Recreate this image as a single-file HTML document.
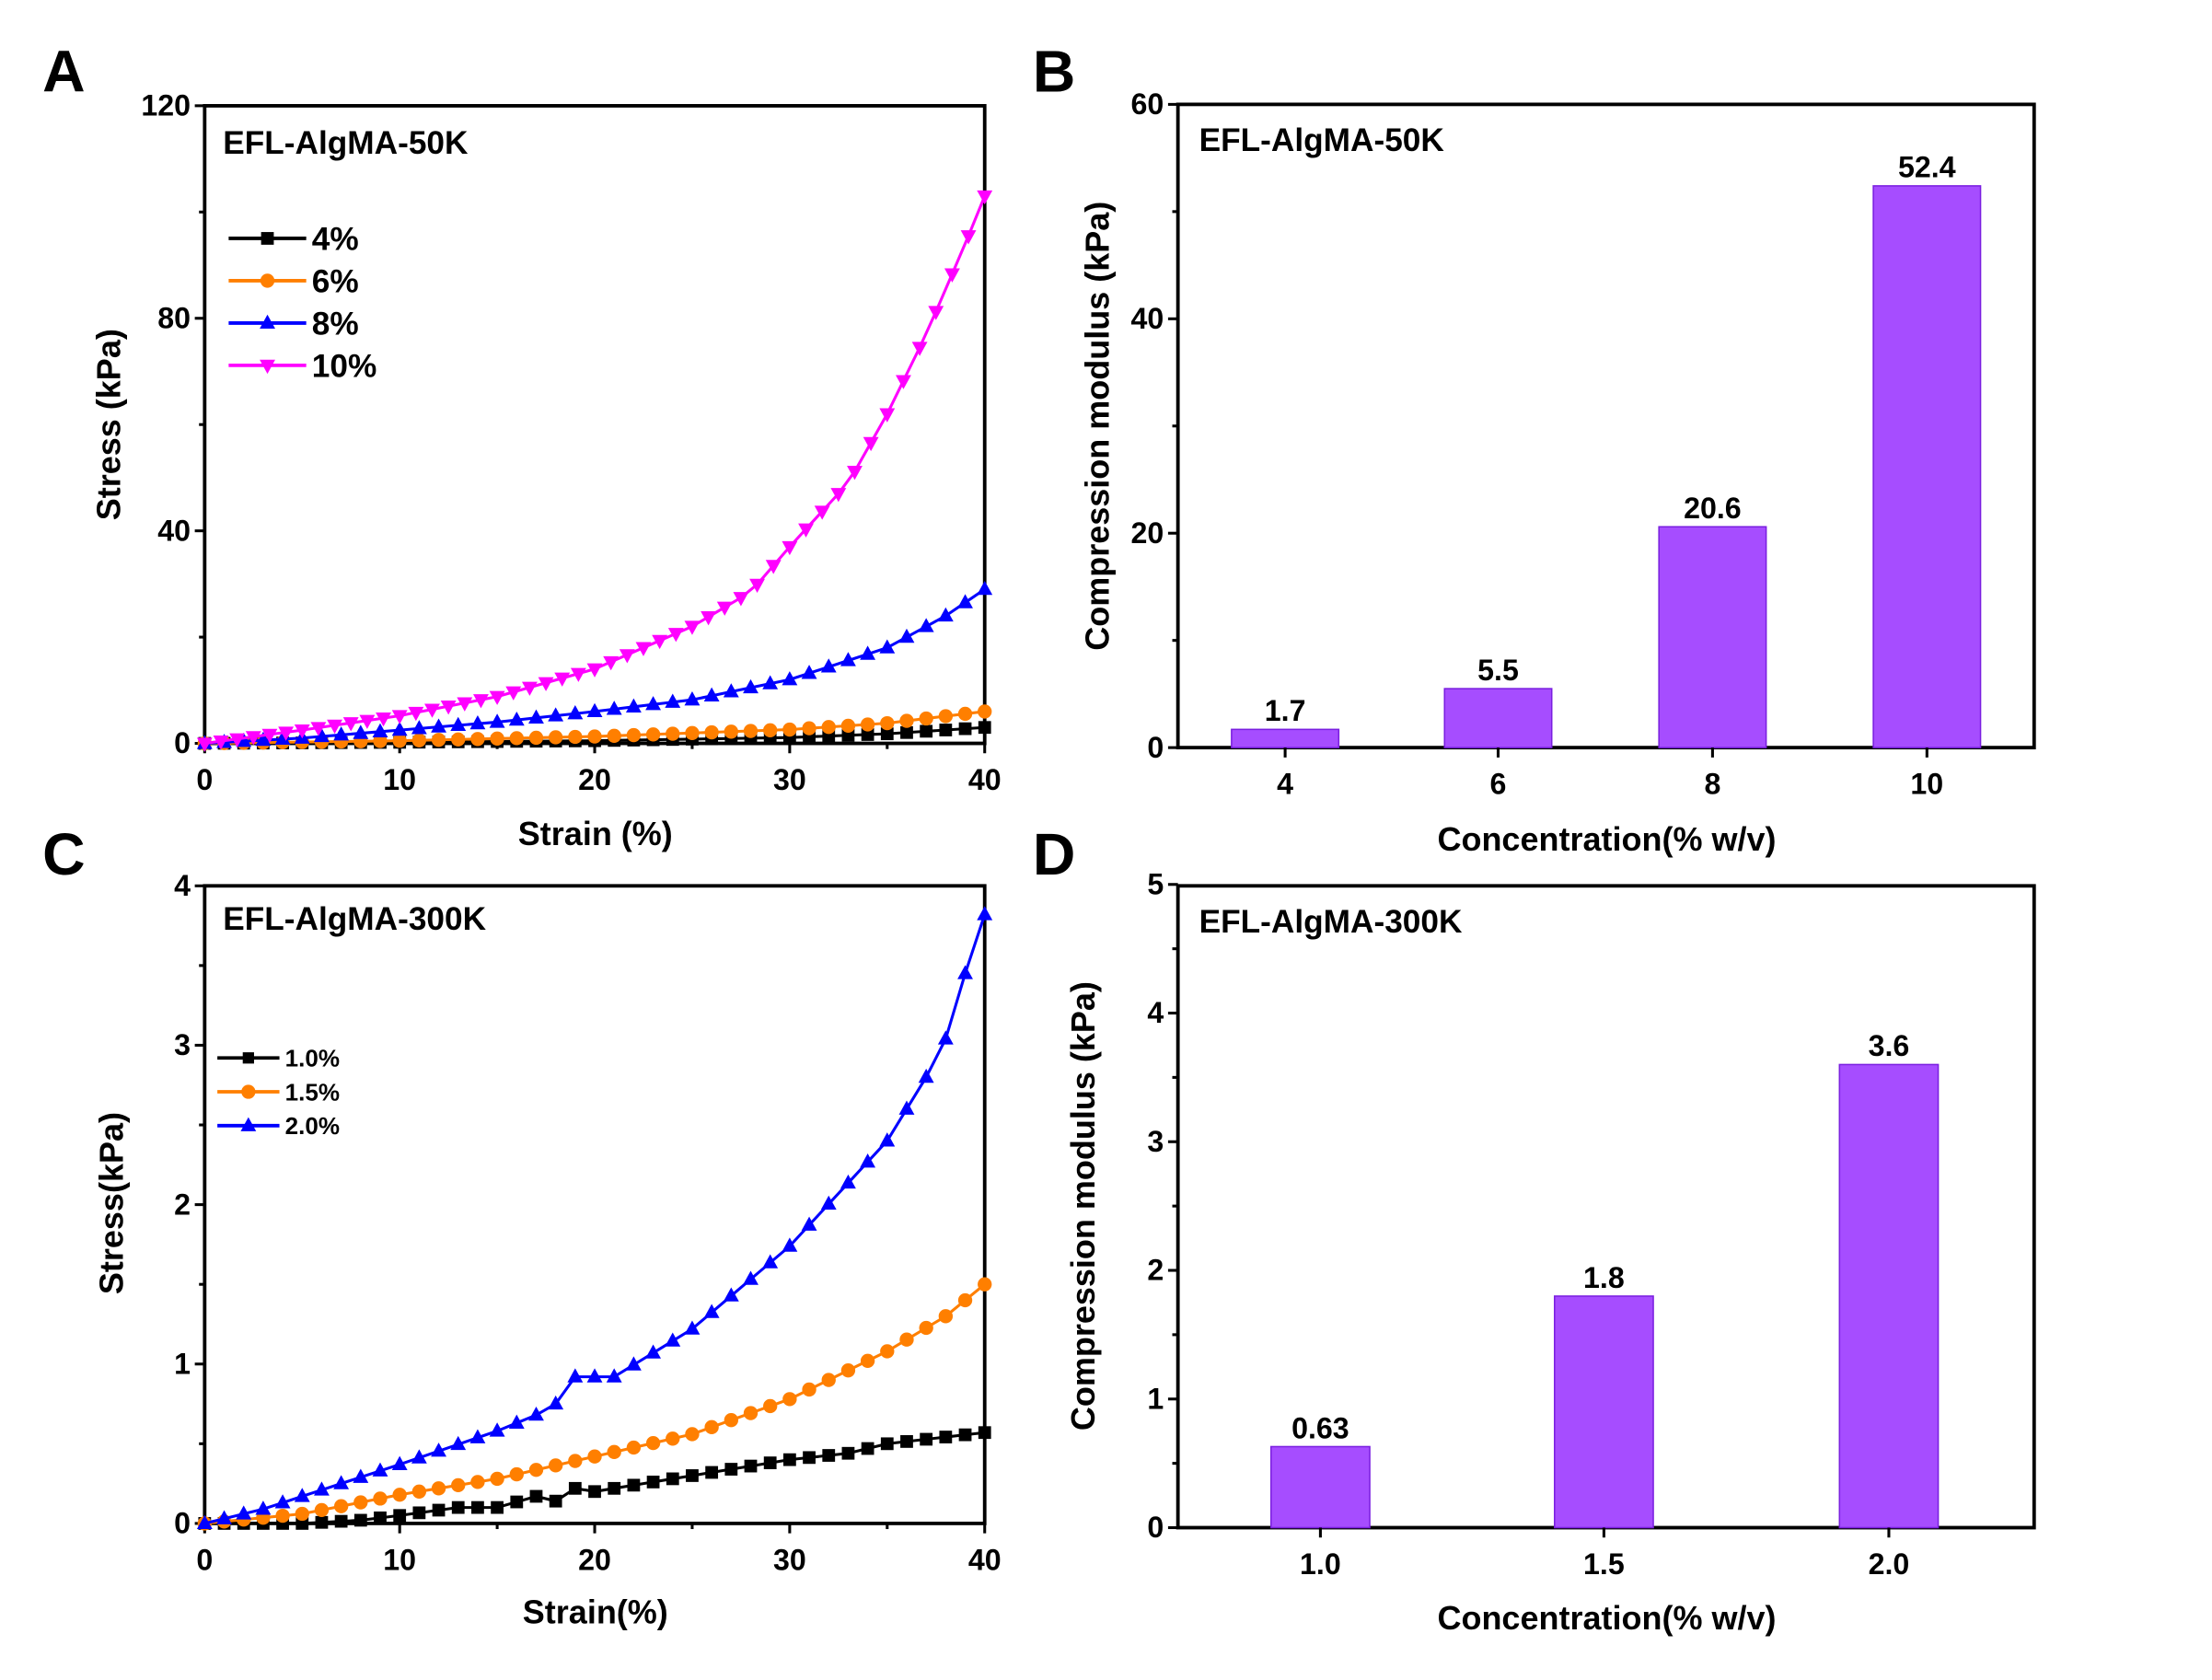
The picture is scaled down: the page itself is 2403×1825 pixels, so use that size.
<!DOCTYPE html>
<html><head><meta charset="utf-8"><style>
html,body{margin:0;padding:0;background:#fff;}
svg{display:block;}
text{font-family:"Liberation Sans",sans-serif;font-weight:bold;fill:#000;}
.n{font-family:"Liberation Sans Narrow","Liberation Sans",sans-serif;font-size:21px;}
.t{font-size:23.5px;}
</style></head><body>
<svg id="s" xmlns="http://www.w3.org/2000/svg" width="2403" height="1825" viewBox="0 0 1568 1191">
<rect width="1568" height="1191" fill="#fff"/>
<text x="30" y="65" style="font-size:42px">A</text>
<text x="732" y="65" style="font-size:42px">B</text>
<text x="30" y="620" style="font-size:42px">C</text>
<text x="732" y="620" style="font-size:42px">D</text>
</svg>
<script>
const S=document.getElementById('s'),NS='http://www.w3.org/2000/svg';
function el(t,a,txt){const e=document.createElementNS(NS,t);for(const k in a)e.setAttribute(k,a[k]);if(txt!==undefined)e.textContent=txt;S.appendChild(e);return e;}
function axes(x0,y0,x1,y1){el('rect',{x:x0,y:y0,width:x1-x0,height:y1-y0,fill:'none',stroke:'#000','stroke-width':2.5});}
function xtick(x,y,lab,len){el('line',{x1:x,y1:y,x2:x,y2:y+len,stroke:'#000','stroke-width':2});if(lab!==null)el('text',{x:x,y:y+33,'text-anchor':'middle',class:'n'},lab);}
function ytick(x,y,lab,len){el('line',{x1:x,y1:y,x2:x-len,y2:y,stroke:'#000','stroke-width':2});if(lab!==null)el('text',{x:x-10,y:y+7,'text-anchor':'end',class:'n'},lab);}
function interp(k,v){for(let i=0;i<k.length-1;i++){if(v<=k[i+1][0]){const t=(v-k[i][0])/(k[i+1][0]-k[i][0]);return k[i][1]+t*(k[i+1][1]-k[i][1]);}}return k[k.length-1][1];}
function marker(type,x,y,c,r){
 if(type=='sq')el('rect',{x:x-r,y:y-r,width:2*r,height:2*r,fill:c});
 else if(type=='ci')el('circle',{cx:x,cy:y,r:r,fill:c});
 else if(type=='up')el('polygon',{points:`${x},${y-r*1.2} ${x-r*1.1},${y+r*0.8} ${x+r*1.1},${y+r*0.8}`,fill:c});
 else el('polygon',{points:`${x},${y+r*1.2} ${x-r*1.1},${y-r*0.8} ${x+r*1.1},${y-r*0.8}`,fill:c});}
function series(k,X,Y,c,type,n,r){let pts=[];const m=[];for(let i=0;i<=n;i++){const v=40*i/n;const yy=interp(k,v);pts.push(X(v)+','+Y(yy));m.push([X(v),Y(yy)]);}
 el('polyline',{points:pts.join(' '),fill:'none',stroke:c,'stroke-width':2});m.forEach(p=>marker(type,p[0],p[1],c,r));}
function legend(x,y,c,type,lab,fs,r,len){el('line',{x1:x,y1:y,x2:x+len,y2:y,stroke:c,'stroke-width':2.5});marker(type,x+len/2,y,c,r);el('text',{x:x+len+4,y:y+fs*0.36,style:`font-size:${fs}px`},lab);}
// Panel A
{const X=v=>145+v*13.825,Y=v=>527-v*3.767;axes(145,75,698,527);
for(let v=0;v<=40;v+=5)xtick(X(v),527,v%10==0?v:null,v%10==0?7:4);
for(let v=0;v<=120;v+=20)ytick(145,Y(v),v%40==0?v:null,v%40==0?7:4);
el('text',{x:158,y:109,style:'font-size:23px'},'EFL-AlgMA-50K');
el('text',{x:422,y:599,'text-anchor':'middle',class:'t'},'Strain (%)');
el('text',{x:0,y:0,transform:'translate(85,301) rotate(-90)','text-anchor':'middle',class:'t'},'Stress (kPa)');
series([[0,0],[10,0.2],[20,0.5],[30,1.1],[35,1.8],[40,3]],X,Y,'#000','sq',40,4.5);
series([[0,0],[10,0.5],[20,1.3],[30,2.6],[35,3.8],[40,6]],X,Y,'#ff7f00','ci',40,5);
series([[0,0],[5,1],[10,2.5],[15,4],[20,6],[25,8.2],[30,12],[35,18],[38,24],[40,29]],X,Y,'#0000ff','up',40,5);
series([[0,0],[5,2.5],[10,5.2],[15,8.8],[20,14],[25,22],[28,28.5],[30,37],[33,49],[35,62],[37,77],[39,94],[40,103]],X,Y,'#ff00ff','dn',48,5);
legend(162,169,'#000','sq','4%',23,4.5,55);legend(162,199,'#ff7f00','ci','6%',23,5,55);legend(162,229,'#0000ff','up','8%',23,5,55);legend(162,259,'#ff00ff','dn','10%',23,5,55);}
// Panel B
{const Y=v=>530-v*7.6;axes(835,74,1442,530);
for(let v=0;v<=60;v+=10)ytick(835,Y(v),v%20==0?v:null,v%20==0?7:4);
[[911,'4',1.7],[1062,'6',5.5],[1214,'8',20.6],[1366,'10',52.4]].forEach(b=>{el('rect',{x:b[0]-38,y:Y(b[2]),width:76,height:530-Y(b[2]),fill:'#a64dff',stroke:'#7a1fe0','stroke-width':1});
 xtick(b[0],530,b[1],7);el('text',{x:b[0],y:Y(b[2])-6,'text-anchor':'middle',class:'n'},b[2]);});
el('text',{x:850,y:107,style:'font-size:23px'},'EFL-AlgMA-50K');
el('text',{x:1139,y:603,'text-anchor':'middle',class:'t'},'Concentration(% w/v)');
el('text',{x:0,y:0,transform:'translate(786,302) rotate(-90)','text-anchor':'middle',class:'t'},'Compression modulus (kPa)');}
// Panel C
{const X=v=>145+v*13.825,Y=v=>1080-v*113;axes(145,628,698,1080);
for(let v=0;v<=40;v+=5)xtick(X(v),1080,v%10==0?v:null,v%10==0?7:4);
for(let v=0;v<=4;v+=0.5)ytick(145,Y(v),v%1==0?v:null,v%1==0?7:4);
el('text',{x:158,y:659,style:'font-size:23px'},'EFL-AlgMA-300K');
el('text',{x:422,y:1151,'text-anchor':'middle',class:'t'},'Strain(%)');
el('text',{x:0,y:0,transform:'translate(87,853) rotate(-90)','text-anchor':'middle',class:'t'},'Stress(kPa)');
series([[0,0],[5,0],[8,0.02],[10,0.05],[13,0.1],[15,0.1],[17,0.17],[18,0.14],[19,0.22],[20,0.2],[25,0.3],[30,0.4],[33,0.44],[35,0.5],[40,0.57]],X,Y,'#000','sq',40,4.5);
series([[0,0],[5,0.06],[10,0.18],[15,0.28],[20,0.42],[25,0.56],[30,0.78],[35,1.08],[38,1.3],[40,1.5]],X,Y,'#ff7f00','ci',40,5);
series([[0,0],[3,0.09],[5,0.17],[10,0.37],[15,0.58],[17,0.68],[18,0.75],[19,0.92],[21,0.92],[25,1.22],[30,1.74],[35,2.4],[37,2.8],[38,3.04],[39,3.45],[40,3.82]],X,Y,'#0000ff','up',40,5);
legend(154,750,'#000','sq','1.0%',17,4,44);legend(154,774,'#ff7f00','ci','1.5%',17,5,44);legend(154,798,'#0000ff','up','2.0%',17,5,44);}
// Panel D
{const Y=v=>1083-v*91.2;axes(835,628,1442,1083);
for(let v=0;v<=5;v+=0.5)ytick(835,Y(v),v%1==0?v:null,v%1==0?7:4);
[[936,'1.0',0.63],[1137,'1.5',1.8],[1339,'2.0',3.6]].forEach(b=>{el('rect',{x:b[0]-35,y:Y(b[2]),width:70,height:1083-Y(b[2]),fill:'#a64dff',stroke:'#7a1fe0','stroke-width':1});
 xtick(b[0],1083,b[1],7);el('text',{x:b[0],y:Y(b[2])-6,'text-anchor':'middle',class:'n'},b[2]);});
el('text',{x:850,y:661,style:'font-size:23px'},'EFL-AlgMA-300K');
el('text',{x:1139,y:1155,'text-anchor':'middle',class:'t'},'Concentration(% w/v)');
el('text',{x:0,y:0,transform:'translate(776,855) rotate(-90)','text-anchor':'middle',class:'t'},'Compression modulus (kPa)');}
</script>
</body></html>
